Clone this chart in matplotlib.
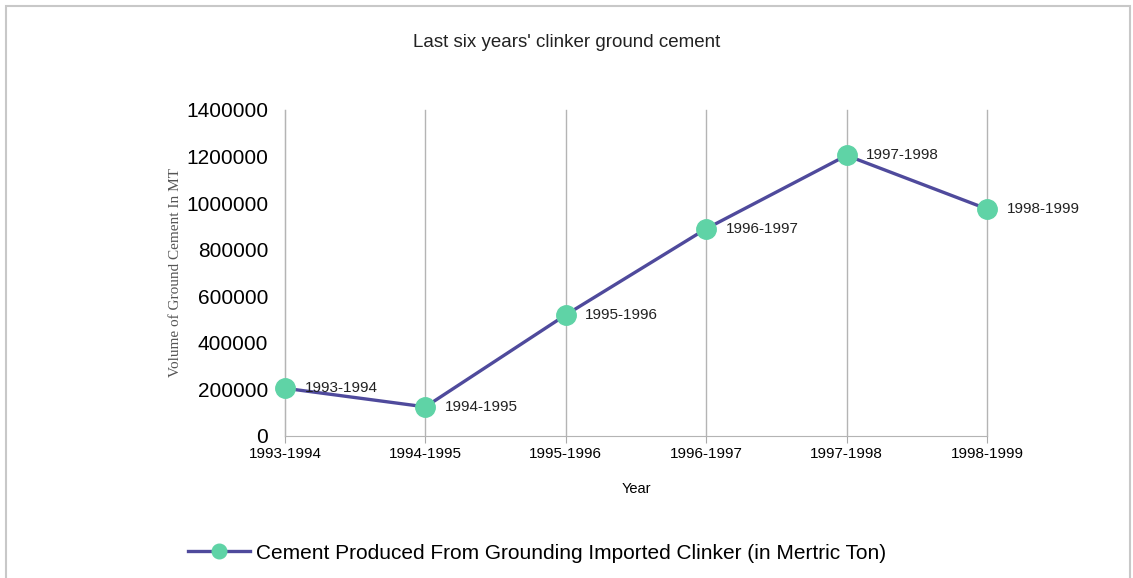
import matplotlib.pyplot as plt
from matplotlib.patches import Rectangle

years = ['1993-1994', '1994-1995', '1995-1996', '1996-1997', '1997-1998', '1998-1999']
volume = [205000, 125000, 520000, 890000, 1205000, 975000]
yticks = [0, 200000, 400000, 600000, 800000, 1000000, 1200000, 1400000]

plt.rcParams['font.family'] = ['Liberation Sans', 'DejaVu Sans']

fig = plt.figure(figsize=(11.33, 5.78), dpi=100)
ax = fig.add_axes([0.2515, 0.2457, 0.6196, 0.564])

# outer chart frame
fig.patches.append(Rectangle((6 / 1133, -0.01), 1124 / 1133, 1 - 6 / 578 + 0.01,
                             transform=fig.transFigure, fill=False,
                             edgecolor='#c8c8c8', linewidth=1.5))

x = list(range(len(years)))
line, = ax.plot(x, volume, color='#4f4a9c', linewidth=2.4, marker='o',
                markersize=14, markerfacecolor='#5fd3a6', markeredgecolor='#5fd3a6',
                label='Cement Produced From Grounding Imported Clinker (in Mertric Ton)',
                zorder=3, clip_on=False)

for xi, v, lab in zip(x, volume, years):
    ax.annotate(lab, (xi, v), xytext=(14, 0), textcoords='offset points',
                va='center', ha='left', fontsize=11, color='#222222')

ax.set_xlim(0, 5)
ax.set_ylim(0, 1400000)
ax.set_xticks(x)
ax.set_xticklabels(years, fontsize=11)
ax.set_yticks(yticks)
ax.set_yticklabels([str(t) for t in yticks], fontsize=15)
ax.tick_params(axis='y', length=0, pad=12)
ax.tick_params(axis='x', length=5, color='#aaaaaa', pad=3)

ax.grid(axis='x', color='#b4b4b4', linewidth=1)
for gl in ax.get_xgridlines():
    gl.set_clip_on(False)
ax.set_axisbelow(True)
for s in ['top', 'right']:
    ax.spines[s].set_visible(False)
for s in ['left', 'bottom']:
    ax.spines[s].set_color('#b4b4b4')

ax.set_xlabel('Year', fontsize=10.5, labelpad=15)
ax.set_ylabel('Volume of Ground Cement In MT', fontsize=11, color='#555555',
              family=['Liberation Serif', 'DejaVu Serif'], labelpad=3)

fig.text(0.5, 0.927, "Last six years' clinker ground cement", ha='center',
         va='center', fontsize=13.5, color='#222222')

fig.legend(handles=[line], loc='center', bbox_to_anchor=(0.474, 0.043),
           frameon=False, fontsize=15, markerscale=0.75, handlelength=3,
           handletextpad=0.3)

fig.savefig('out.png', dpi=100, facecolor='white')
